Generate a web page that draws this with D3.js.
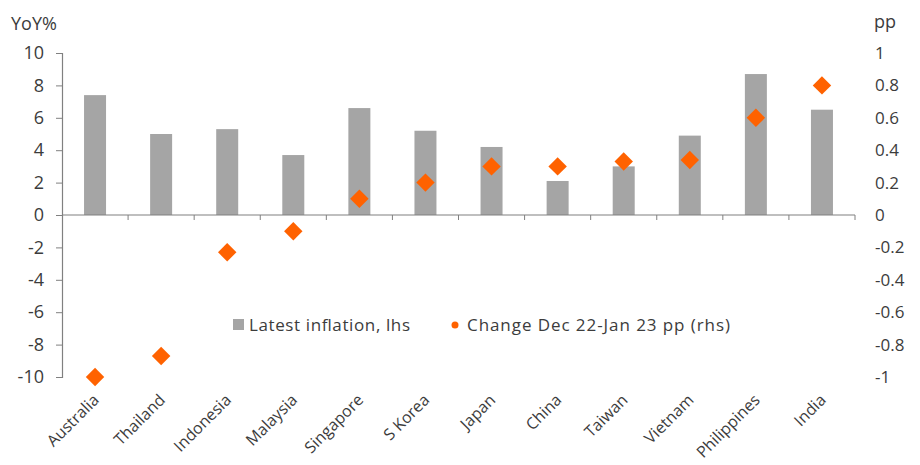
<!DOCTYPE html>
<html>
<head>
<meta charset="utf-8">
<script src="https://cdn.jsdelivr.net/npm/d3@7"></script>
<style>
  body { margin: 0; background: #fff; }
  text { font-family: "Open Sans", sans-serif; fill: #3c3c3c; }
</style>
</head>
<body>
<div id="chart"></div>
<script>
const countries = ['Australia', 'Thailand', 'Indonesia', 'Malaysia', 'Singapore', 'S Korea',
  'Japan', 'China', 'Taiwan', 'Vietnam', 'Philippines', 'India'];
const inflation = [7.4, 5.0, 5.3, 3.7, 6.6, 5.2, 4.2, 2.1, 3.0, 4.9, 8.7, 6.5];
const change = [-1.0, -0.87, -0.23, -0.1, 0.1, 0.2, 0.3, 0.3, 0.33, 0.34, 0.6, 0.8];
const leftTicks = [-10, -8, -6, -4, -2, 0, 2, 4, 6, 8, 10];
const rightTicks = [-1, -0.8, -0.6, -0.4, -0.2, 0, 0.2, 0.4, 0.6, 0.8, 1];

const W = 920, H = 465;
const plotL = 62, plotR = 855, plotT = 53, plotB = 377;
const orange = '#ff6200', grey = '#a5a5a5', axisCol = '#808080';

const svg = d3.select('#chart').append('svg')
  .attr('width', W).attr('height', H);

const x = d3.scaleBand().domain(countries).range([plotL, plotR]).paddingInner(0).paddingOuter(0);
const yL = d3.scaleLinear().domain([-10, 10]).range([plotB, plotT]);
const yR = d3.scaleLinear().domain([-1, 1]).range([plotB, plotT]);

// bars
svg.selectAll('rect.bar')
  .data(countries)
  .join('rect')
  .attr('class', 'bar')
  .attr('x', d => x(d) + x.bandwidth() / 2 - 11)
  .attr('width', 22)
  .attr('y', (d, i) => yL(Math.max(0, inflation[i])))
  .attr('height', (d, i) => Math.abs(yL(inflation[i]) - yL(0)))
  .attr('fill', grey);

// x axis with ticks at category boundaries
svg.append('line')
  .attr('x1', plotL).attr('x2', plotR)
  .attr('y1', yL(0)).attr('y2', yL(0))
  .attr('stroke', axisCol).attr('stroke-width', 1.2);
svg.selectAll('line.xt')
  .data(countries)
  .join('line')
  .attr('class', 'xt')
  .attr('x1', d => x(d) + x.bandwidth())
  .attr('x2', d => x(d) + x.bandwidth())
  .attr('y1', yL(0)).attr('y2', yL(0) + 5)
  .attr('stroke', axisCol);

// left axis
const gL = svg.append('g').attr('transform', `translate(${plotL},0)`)
  .call(d3.axisLeft(yL).tickValues(leftTicks).tickSize(6).tickPadding(12).tickFormat(d => String(d)));
gL.select('.domain').attr('stroke', axisCol).attr('stroke-width', 1.2);
gL.selectAll('.tick line').attr('stroke', axisCol);
gL.selectAll('.tick text').style('font-size', '18px').attr('fill', '#3c3c3c');

// right axis, labels only
const gR = svg.append('g').attr('transform', `translate(${plotR},0)`)
  .call(d3.axisRight(yR).tickValues(rightTicks).tickSize(0).tickPadding(20).tickFormat(d => String(+d.toFixed(1))));
gR.select('.domain').remove();
gR.selectAll('.tick text').style('font-size', '17px').attr('fill', '#3c3c3c');

// diamonds
svg.selectAll('path.dia')
  .data(countries)
  .join('path')
  .attr('class', 'dia')
  .attr('d', d3.symbol(d3.symbolSquare, 170))
  .attr('transform', (d, i) => `translate(${x(d) + x.bandwidth() / 2},${yR(change[i])}) rotate(45)`)
  .attr('fill', orange);

// category labels
svg.selectAll('text.cat')
  .data(countries)
  .join('text')
  .attr('class', 'cat')
  .attr('text-anchor', 'end')
  .attr('transform', d => `translate(${x(d) + x.bandwidth() / 2 + 5},${plotB + 24}) rotate(-45)`)
  .style('font-size', '16px')
  .text(d => d);

// axis titles
svg.append('text').attr('x', 11).attr('y', 30).style('font-size', '18px').text('YoY%');
svg.append('text').attr('x', 874).attr('y', 28).style('font-size', '18px').text('pp');

// legend
const lg = svg.append('g');
lg.append('rect').attr('x', 233).attr('y', 319).attr('width', 11).attr('height', 11).attr('fill', grey);
lg.append('text').attr('x', 249).attr('y', 331).style('font-size', '17px')
  .attr('textLength', 161).attr('lengthAdjust', 'spacing').text('Latest inflation, lhs');
lg.append('circle').attr('cx', 455).attr('cy', 325).attr('r', 3.5).attr('fill', orange);
lg.append('text').attr('x', 467).attr('y', 331).style('font-size', '17px')
  .attr('textLength', 263).attr('lengthAdjust', 'spacing').text('Change Dec 22-Jan 23 pp (rhs)');
</script>
</body>
</html>
